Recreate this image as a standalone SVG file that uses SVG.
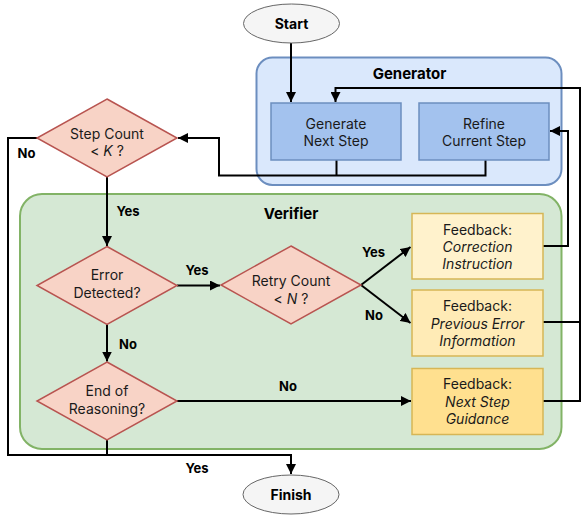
<svg xmlns="http://www.w3.org/2000/svg" width="581" height="517" viewBox="0 0 581 517">
<defs>
<marker id="arr" markerUnits="userSpaceOnUse" markerWidth="11" markerHeight="10" refX="10" refY="5" orient="auto">
<path d="M0,0 L10,5 L0,10 z" fill="#000"/>
</marker>
<style>
text{font-family:Inter,"Noto Sans","Liberation Sans",sans-serif;fill:#1a1a1a;text-anchor:middle}
.t{font-size:14px}
.b{font-size:13px;font-weight:bold;fill:#000}
.h{font-size:15px;font-weight:bold;fill:#000}
.i{font-style:italic}
.dia{fill:#f8d3c6;stroke:#b85450;stroke-width:1.5}
.gbox{fill:#a3c2ee;stroke:#6c8ebf;stroke-width:1.5}
.fb{stroke:#d6b656;stroke-width:1.5}
.ell{fill:#f5f5f5;stroke:#666;stroke-width:1}
.c{fill:none;stroke:#000;stroke-width:2}
</style>
</defs>
<g id="generator-group">
<rect x="256.5" y="57.5" width="305" height="127.5" rx="16" fill="#dae8fc" stroke="#6c8ebf" stroke-width="2"/>
<text class="h" x="409.5" y="79">Generator</text>
</g>
<g id="verifier-group">
<rect x="20" y="194" width="541.5" height="255" rx="22" fill="#d5e8d4" stroke="#82b366" stroke-width="2"/>
<text class="h" x="291" y="219">Verifier</text>
</g>
<g id="connectors">
<path class="c" d="M291,43 V102" marker-end="url(#arr)"/>
<path class="c" d="M543,401 H580 V88 H335.5 V102" marker-end="url(#arr)"/>
<path class="c" d="M543,322 H580"/>
<path class="c" d="M543,246 H568 V131 H550" marker-end="url(#arr)"/>
<path class="c" d="M336.5,160 V175.5"/>
<path class="c" d="M485.5,160 V175.5 H219 V138 H178" marker-end="url(#arr)"/>
<path class="c" d="M107,177 V246" marker-end="url(#arr)"/>
<path class="c" d="M37,138 H8 V455 H291 V474" marker-end="url(#arr)"/>
<path class="c" d="M177,285.5 H220" marker-end="url(#arr)"/>
<path class="c" d="M361,285 L410.5,247" marker-end="url(#arr)"/>
<path class="c" d="M361,285 L410.5,323" marker-end="url(#arr)"/>
<path class="c" d="M107,324 V361.5" marker-end="url(#arr)"/>
<path class="c" d="M177,401 H411" marker-end="url(#arr)"/>
<path class="c" d="M107,440 V455"/>
<text class="b" x="26.5" y="157.5">No</text>
<text class="b" x="128" y="215.5">Yes</text>
<text class="b" x="197" y="275">Yes</text>
<text class="b" x="373.5" y="256.5">Yes</text>
<text class="b" x="374" y="320">No</text>
<text class="b" x="128" y="349">No</text>
<text class="b" x="288" y="390.5">No</text>
<text class="b" x="197" y="472.5">Yes</text>
</g>
<g id="start">
<ellipse class="ell" cx="291.5" cy="23.5" rx="48" ry="19.5"/>
<text class="b" style="font-size:14px" x="291.5" y="29">Start</text>
</g>
<g id="finish">
<ellipse class="ell" cx="291" cy="494.5" rx="48" ry="19.5"/>
<text class="b" style="font-size:14px" x="291" y="500">Finish</text>
</g>
<g id="generate-next-step">
<rect class="gbox" x="271" y="103" width="130" height="57"/>
<text class="t" x="336" y="128.5">Generate</text>
<text class="t" x="336" y="146">Next Step</text>
</g>
<g id="refine-current-step">
<rect class="gbox" x="419" y="103" width="130" height="57"/>
<text class="t" x="484" y="128.5">Refine</text>
<text class="t" x="484" y="146">Current Step</text>
</g>
<g id="step-count">
<polygon class="dia" points="107,99 177,138 107,177 37,138"/>
<text class="t" x="107" y="138.5">Step Count</text>
<text class="t" x="107" y="156">&lt; <tspan class="i">K</tspan> ?</text>
</g>
<g id="error-detected">
<polygon class="dia" points="107,246.5 177,285.5 107,324.5 37,285.5"/>
<text class="t" x="107" y="280">Error</text>
<text class="t" x="107" y="297.5">Detected?</text>
</g>
<g id="retry-count">
<polygon class="dia" points="291,246 361,285 291,324 221,285"/>
<text class="t" x="291" y="286">Retry Count</text>
<text class="t" x="291" y="303.5">&lt; <tspan class="i">N</tspan> ?</text>
</g>
<g id="end-of-reasoning">
<polygon class="dia" points="107,362 177,401 107,440 37,401"/>
<text class="t" x="107" y="396">End of</text>
<text class="t" x="107" y="413.5">Reasoning?</text>
</g>
<g id="fb-correction">
<rect class="fb" x="412" y="213.5" width="131" height="65.5" fill="#fff2cc"/>
<text class="t" x="477.5" y="234.5">Feedback:</text>
<text class="t i" x="477.5" y="251.5">Correction</text>
<text class="t i" x="477.5" y="268.5">Instruction</text>
</g>
<g id="fb-previous">
<rect class="fb" x="412" y="290" width="131" height="66" fill="#ffebb6"/>
<text class="t" x="477.5" y="311">Feedback:</text>
<text class="t i" x="477.5" y="328.5">Previous Error</text>
<text class="t i" x="477.5" y="346">Information</text>
</g>
<g id="fb-next">
<rect class="fb" x="412" y="368.5" width="131" height="66" fill="#ffe08f"/>
<text class="t" x="477.5" y="389">Feedback:</text>
<text class="t i" x="477.5" y="406.5">Next Step</text>
<text class="t i" x="477.5" y="424">Guidance</text>
</g>
</svg>
